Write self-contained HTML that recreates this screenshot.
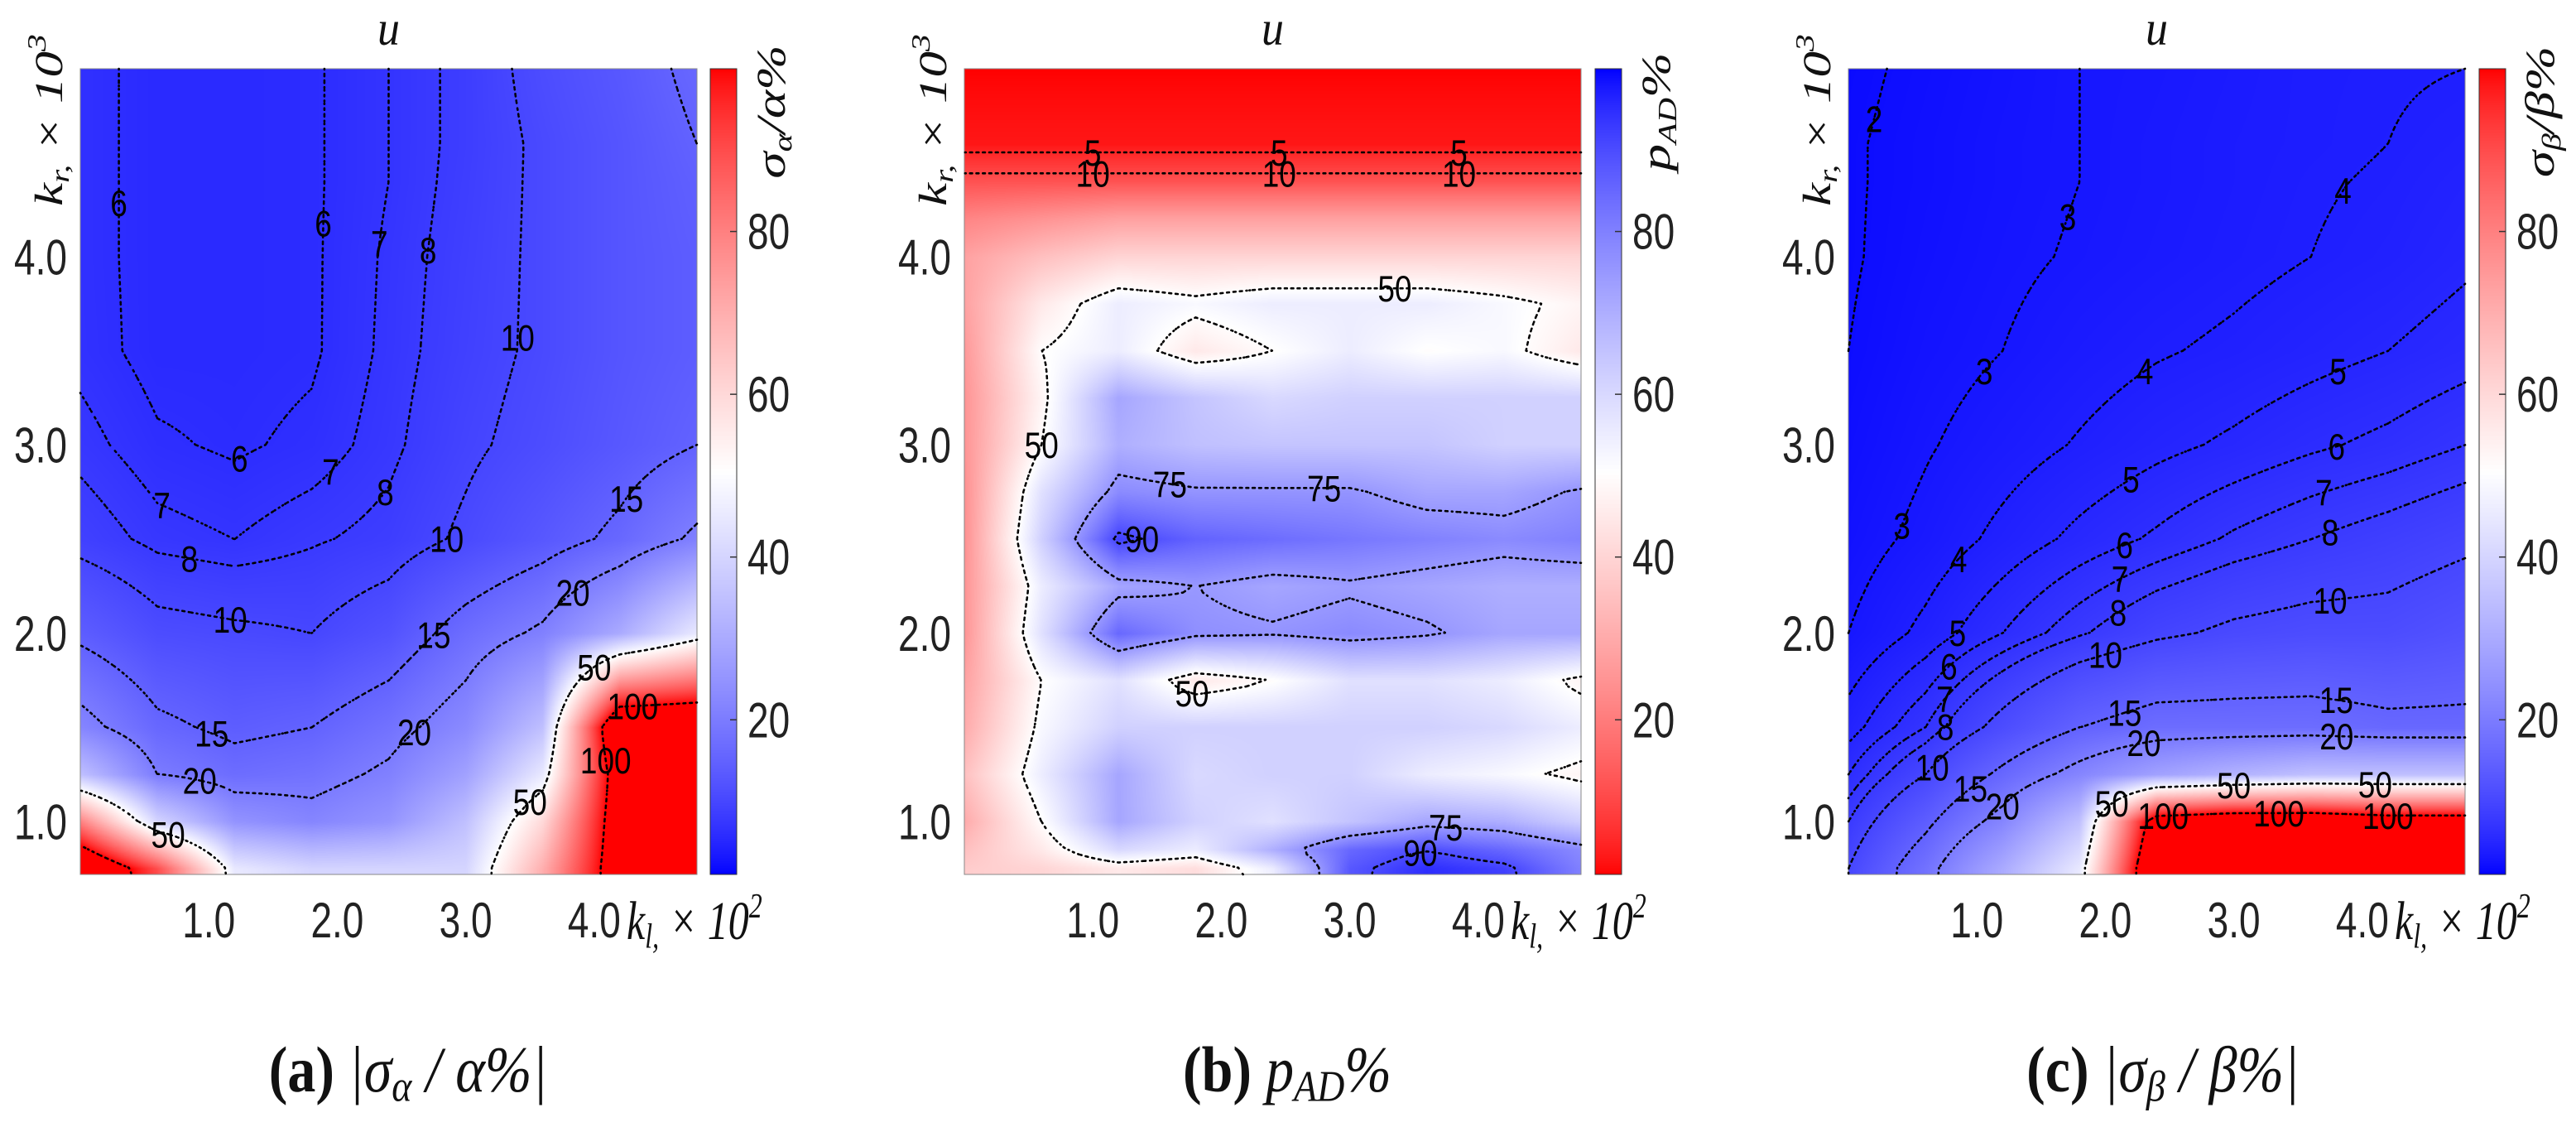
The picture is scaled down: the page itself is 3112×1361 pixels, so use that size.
<!DOCTYPE html>
<html><head><meta charset="utf-8">
<style>
html,body{margin:0;padding:0;background:#fff;}
#root{position:relative;width:3112px;height:1361px;overflow:hidden;background:#fff;}
canvas{position:absolute;}
svg{position:absolute;left:0;top:0;}
</style></head>
<body>
<div id="root">
<svg id="ov" width="3112" height="1361"></svg>
</div>
<script>
// ---- data ----
const xGrid=[0,0.6,1.2,1.8,2.4,3.0,3.6,4.2,4.8];
const yGridAC=[5.0,4.6,4.4,4.0,3.5,3.0,2.5,2.0,1.5,1.25,1.0,0.75];
const yGridB=[5.0,4.6,4.4,4.2,4.0,3.75,3.5,3.25,3.0,2.75,2.5,2.25,2.0,1.75,1.5,1.25,1.0,0.85,0.75];
const valuesA=[
[6.5,5.5,5.5,5.8,7,8.5,11,13,16],
[6.5,5.5,5.5,5.8,7,8.5,10.5,12.5,15],
[6.5,5.5,5.5,5.8,7,8.6,10.5,12.5,14.5],
[6.5,5.5,5.5,5.8,7.2,8.8,10.5,12.5,14],
[6.6,5.5,5.5,5.8,7.3,9,10.5,12.5,14],
[7.5,6.2,5.8,6.3,7.6,9.5,11,13,15],
[9,7.5,7,7.8,8.5,10.5,13,16,21],
[14,11,10.5,10,12,17,21,30,45],
[22,16,14,15,18,23,35,120,120],
[35,20,17,18,21,28,45,110,120],
[80,40,25,22,25,35,60,110,120],
[120,90,45,40,40,40,70,110,110]];
const valuesB=[
[1,1,1,1,1,1,1,1,1],
[3,3,3,3,3,3,3,3,3],
[12,12,12,12,12,12,12,12,12],
[22,25,28,28,28,28,28,28,28],
[28,35,40,40,40,40,40,40,40],
[28,45,55,52,55,55,55,52,48],
[26,50,55,45,50,55,50,52,45],
[25,48,72,65,60,62,62,62,62],
[25,50,70,66,65,65,65,62,62],
[24,58,78,76,76,76,72,72,76],
[24,62,92,86,84,82,80,78,80],
[25,55,72,75,72,74,72,70,70],
[25,58,85,77,76,78,76,72,72],
[28,50,58,45,50,58,58,55,48],
[30,52,62,62,62,62,62,60,55],
[35,55,72,60,62,62,55,52,48],
[30,50,72,62,58,65,72,70,62],
[35,45,60,55,70,85,90,85,78],
[38,40,45,42,55,88,95,92,80]];
const valuesC=[
[1.8,2.2,2.6,3.0,3.2,3.5,3.8,3.9,4.0],
[1.9,2.3,2.7,3.0,3.3,3.6,3.8,4.0,4.3],
[1.9,2.3,2.7,3.0,3.3,3.6,3.9,4.1,4.5],
[1.9,2.4,2.8,3.1,3.4,3.7,4.0,4.3,4.8],
[2.0,2.6,3.0,3.5,3.9,4.2,4.6,5.0,5.5],
[2.2,2.9,3.5,4.1,4.7,5.2,5.8,6.3,7.0],
[2.5,3.3,4.3,5.3,6.2,7.2,8,8.7,9.5],
[3.0,4.3,6.0,7.8,9.5,10.5,11,11,12],
[4.5,7,11,15,17,17,17,16,16],
[6,10,16,22,28,32,35,35,35],
[8,14,22,35,110,115,115,110,110],
[10,18,30,45,120,110,120,115,115]];
const levelsA=[6,7,8,10,15,20,50,100];
const levelsB=[5,10,50,75,90];
const levelsC=[2,3,4,5,6,7,8,10,15,20,50,100];
const xTicks=[1.0,2.0,3.0,4.0];
const yTicks=[1.0,2.0,3.0,4.0];
const cbTicks=[20,40,60,80];

const panels=[
 {id:'a',x0:97,cb:858,vals:valuesA,yg:yGridAC,lev:levelsA,rev:false,capX:493},
 {id:'b',x0:1165,cb:1927,vals:valuesB,yg:yGridB,lev:levelsB,rev:true,capX:1555},
 {id:'c',x0:2233,cb:2995,vals:valuesC,yg:yGridAC,lev:levelsC,rev:false,capX:2613}];
const Y0=83,W=745,H=973,XMAX=4.8,YMIN=0.72,YMAX=5.0,CBW=32,SY=1.31;
const NS='http://www.w3.org/2000/svg';
const ov=document.getElementById('ov');
const root=document.getElementById('root');

function color(v,rev){
  let t=(Math.min(Math.max(v,1),100)-1)/99; if(rev) t=1-t;
  let r,g,b;
  if(t<0.5){const s=Math.pow(t/0.5,0.75);r=255*s;g=255*s;b=255;}
  else{const s=Math.pow((1-t)/0.5,0.75);r=255;g=255*s;b=255*s;}
  return [r|0,g|0,b|0];
}
function interp(vals,yG,x,y){
  x=Math.min(Math.max(x,xGrid[0]),xGrid[xGrid.length-1]);
  y=Math.min(Math.max(y,yG[yG.length-1]),yG[0]);
  let i=0;while(i<xGrid.length-2&&x>xGrid[i+1])i++;
  let j=0;while(j<yG.length-2&&y<yG[j+1])j++;
  const fx=(x-xGrid[i])/(xGrid[i+1]-xGrid[i]);
  const fy=(yG[j]-y)/(yG[j]-yG[j+1]);
  const a=vals[j][i],b=vals[j][i+1],c=vals[j+1][i],d=vals[j+1][i+1];
  return a*(1-fx)*(1-fy)+b*fx*(1-fy)+c*(1-fx)*fy+d*fx*fy;
}
function mk(tag,attrs,parent){const e=document.createElementNS(NS,tag);for(const k in attrs)e.setAttribute(k,attrs[k]);(parent||ov).appendChild(e);return e;}
function txt(s,x,y,size,anchor,extra,parent,rot,sy){
  const tr='translate('+x+','+y+') scale(1,'+(sy||SY)+')'+(rot?' rotate(-90)':'');
  const t=mk('text',Object.assign({x:0,y:0,transform:tr,'font-size':size,'text-anchor':anchor||'middle','font-family':'Liberation Sans, sans-serif',fill:'#222'},extra||{}),parent);
  t.innerHTML=s;return t;}

panels.forEach(p=>{
  const sx=x=>p.x0+x/XMAX*W;
  const sy=y=>Y0+(YMAX-y)/(YMAX-YMIN)*H;
  const cv=document.createElement('canvas');
  cv.width=W;cv.height=H;cv.style.left=p.x0+'px';cv.style.top=Y0+'px';
  
  
  root.insertBefore(cv,ov);
  const ctx=cv.getContext('2d');const img=ctx.createImageData(W,H);
  for(let py=0;py<H;py++){const y=YMAX-(py+0.5)/H*(YMAX-YMIN);
    for(let px=0;px<W;px++){const x=(px+0.5)/W*XMAX;const c=color(interp(p.vals,p.yg,x,y),p.rev);
      const k=(py*W+px)*4;img.data[k]=c[0];img.data[k+1]=c[1];img.data[k+2]=c[2];img.data[k+3]=255;}}
  ctx.putImageData(img,0,0);
  const cb=document.createElement('canvas');cb.width=CBW;cb.height=H;cb.style.left=p.cb+'px';cb.style.top=Y0+'px';
  
  
  root.insertBefore(cb,ov);
  const cc=cb.getContext('2d');
  for(let py=0;py<H;py++){const v=100-(py/H)*99;const c=color(v,p.rev);cc.fillStyle='rgb('+c+')';cc.fillRect(0,py,CBW,1);}
  const g=mk('g',{});
  
  
  mk('rect',{x:p.x0,y:Y0,width:W,height:H,fill:'none',stroke:'#888','stroke-width':1},g);
  mk('rect',{x:p.cb,y:Y0,width:CBW,height:H,fill:'none',stroke:'#333','stroke-width':1},g);
  const NX=96,NY=120;const gv=[];
  for(let j=0;j<=NY;j++){gv.push([]);for(let i=0;i<=NX;i++){gv[j].push(interp(p.vals,p.yg,i/NX*XMAX,YMAX-j/NY*(YMAX-YMIN)));}}
  const gx=i=>p.x0+i/NX*W, gy=j=>Y0+j/NY*H;
  p.lev.forEach(L=>{
    let d='';const segs=[];
    for(let j=0;j<NY;j++)for(let i=0;i<NX;i++){
      const a=gv[j][i],b=gv[j][i+1],c=gv[j+1][i+1],e=gv[j+1][i];
      const pts=[];
      const edge=(v1,v2,x1,y1,x2,y2)=>{if((v1<L)!==(v2<L)){const f=(L-v1)/(v2-v1);pts.push([x1+(x2-x1)*f,y1+(y2-y1)*f]);}};
      edge(a,b,gx(i),gy(j),gx(i+1),gy(j));
      edge(b,c,gx(i+1),gy(j),gx(i+1),gy(j+1));
      edge(c,e,gx(i+1),gy(j+1),gx(i),gy(j+1));
      edge(e,a,gx(i),gy(j+1),gx(i),gy(j));
      for(let k=0;k+1<pts.length;k+=2){d+='M'+pts[k][0].toFixed(1)+' '+pts[k][1].toFixed(1)+'L'+pts[k+1][0].toFixed(1)+' '+pts[k+1][1].toFixed(1);segs.push(pts[k]);}
    }
    if(!d)return;
    const path=mk('path',{d:d,fill:'none',stroke:'#000','stroke-width':2.6,'stroke-dasharray':'1 5','stroke-linecap':'round'},g);
    
    
    segs.sort((u,v)=>u[0]-v[0]);
    [0.2,0.5,0.8].forEach(f=>{const s=segs[Math.floor(segs.length*f)];if(!s)return;
      if(s[0]<p.x0+25||s[0]>p.x0+W-25||s[1]<Y0+25||s[1]>Y0+H-20)return;
      const t=txt(String(L),s[0],s[1]+16,37,'middle',{fill:'#000'},g,false,1.2);
      
      });
  });
  xTicks.forEach(v=>{const t=txt(v.toFixed(1),sx(v),1132,46,'middle',{},g);
    
    });
  yTicks.forEach(v=>{const t=txt(v.toFixed(1),p.x0-16,sy(v)+21,46,'end',{},g);
    
    });
  cbTicks.forEach(v=>{const yy=Y0+(100-v)/99*H;
    mk('line',{x1:p.cb+CBW-8,x2:p.cb+CBW,y1:yy,y2:yy,stroke:'#333','stroke-width':1.5},g);
    const t=txt(String(v),p.cb+CBW+13,yy+21,46,'start',{},g);
    
    });
  const serif={'font-family':'Liberation Serif, serif','font-style':'italic',fill:'#111'};
  const ti=txt('u',p.x0+W/2,54,54,'middle',serif,g,false,1.1);
  
  
  const xl=txt('k<tspan font-size="32" dy="8">l,</tspan><tspan dy="-8"> × 10</tspan><tspan font-size="32" dy="-20">2</tspan>',p.x0+W-85,1134,50,'start',serif,g);
  
  
  const yl=txt('k<tspan font-size="32" dy="8">r,</tspan><tspan dy="-8"> × 10</tspan><tspan font-size="32" dy="-20">3</tspan>',p.x0-22,145,48,'middle',serif,g,true);
  
  
  const cbl={a:'σ<tspan font-size="32" dy="8">α</tspan><tspan dy="-8">/α%</tspan>',b:'p<tspan font-size="32" dy="8">AD</tspan><tspan dy="-8">%</tspan>',c:'σ<tspan font-size="32" dy="8">β</tspan><tspan dy="-8">/β%</tspan>'}[p.id];
  const cl=txt(cbl,p.cb+CBW+58,135,50,'middle',serif,g,true);
  
  
  const capTxt={a:'<tspan font-weight="bold" font-style="normal">(a)</tspan> |σ<tspan font-size="46" dy="10">α</tspan><tspan dy="-10"> / α%|</tspan>',
    b:'<tspan font-weight="bold" font-style="normal">(b)</tspan> p<tspan font-size="46" dy="10">AD</tspan><tspan dy="-10">%</tspan>',
    c:'<tspan font-weight="bold" font-style="normal">(c)</tspan> |σ<tspan font-size="46" dy="10">β</tspan><tspan dy="-10"> / β%|</tspan>'}[p.id];
  const cp=txt(capTxt,p.capX,1318,68,'middle',serif,g,false,1.15);
  
  
});
</script>
</body></html>
